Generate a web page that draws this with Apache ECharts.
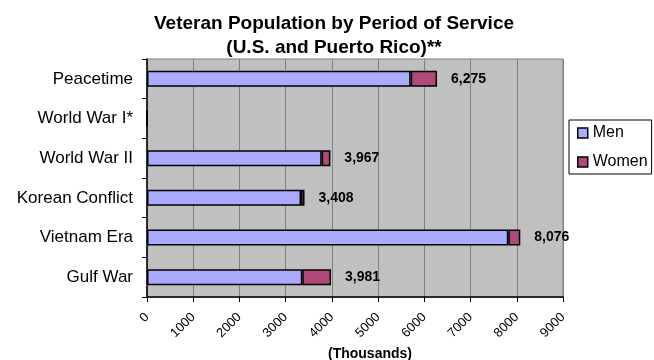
<!DOCTYPE html>
<html>
<head>
<meta charset="utf-8">
<script src="https://cdn.jsdelivr.net/npm/echarts@6/dist/echarts.min.js"></script>
<style>
  html, body { margin: 0; padding: 0; background: #fff; }
  #chart { width: 654px; height: 360px; }
</style>
</head>
<body>
<div id="chart"></div>
<script>
// values in thousands
const periods = ['Peacetime', 'World War I*', 'World War II', 'Korean Conflict', 'Vietnam Era', 'Gulf War']
const men = [5705, 0, 3779, 3332, 7817, 3360]
const women = [570, 0, 188, 76, 259, 621]
const totals = [6275, null, 3967, 3408, 8076, 3981]
const xTicks = [0, 1000, 2000, 3000, 4000, 5000, 6000, 7000, 8000, 9000]

const chart = echarts.init(document.getElementById('chart'))
const font = 'Arial, "Liberation Sans", sans-serif'

chart.setOption({
  animation: false,
  textStyle: { fontFamily: font },
  title: {
    text: 'Veteran Population by Period of Service\n(U.S. and Puerto Rico)**',
    left: 329,
    textAlign: 'center',
    top: 7,
    textStyle: { fontSize: 19, fontWeight: 'bold', color: '#000', lineHeight: 24, fontFamily: font }
  },
  legend: {
    orient: 'vertical',
    left: 569,
    top: 120,
    itemWidth: 10,
    itemHeight: 10,
    itemGap: 13,
    padding: [5, 4, 4, 8],
    borderColor: '#000',
    borderWidth: 1,
    backgroundColor: '#fff',
    textStyle: { fontSize: 16, lineHeight: 16, color: '#000', padding: [0, 0, 0, 0] },
    data: [
      { name: 'Men', icon: 'rect', itemStyle: { borderColor: '#000', borderWidth: 1.5 } },
      { name: 'Women', icon: 'rect', itemStyle: { borderColor: '#000', borderWidth: 1.5 } }
    ]
  },
  grid: {
    left: 147,
    right: 91,
    top: 59,
    bottom: 63,
    outerBoundsMode: 'none',
    containLabel: false,
    show: true,
    backgroundColor: '#c0c0c0',
    borderColor: '#808080',
    borderWidth: 1
  },
  xAxis: {
    type: 'value',
    min: xTicks[0],
    max: xTicks[xTicks.length - 1],
    interval: 1000,
    name: '(Thousands)',
    nameLocation: 'middle',
    nameGap: 49,
    nameTextStyle: { fontSize: 14, fontWeight: 'bold', color: '#000', padding: [0, 0, 0, 30] },
    axisLine: { show: true, lineStyle: { color: '#000', width: 1.5 } },
    axisTick: { show: true, length: 5, lineStyle: { color: '#000' } },
    axisLabel: { rotate: 45, fontSize: 13, color: '#000', margin: 18, formatter: v => String(v) },
    splitLine: { show: true, lineStyle: { color: '#808080', width: 1 } }
  },
  yAxis: {
    type: 'category',
    inverse: true,
    data: periods,
    axisLine: { show: true, lineStyle: { color: '#000', width: 1.5 } },
    axisTick: { show: true, length: 5, lineStyle: { color: '#000' } },
    axisLabel: { fontSize: 17, color: '#000', margin: 14 },
    splitLine: { show: false }
  },
  series: [
    {
      name: 'Men',
      type: 'bar',
      stack: 'total',
      barWidth: 16,
      data: men,
      itemStyle: { color: '#aaaaff', borderColor: '#000', borderWidth: 1.5 }
    },
    {
      name: 'Women',
      type: 'bar',
      stack: 'total',
      barWidth: 16,
      data: women.map((v, i) => ({ value: v, total: totals[i] })),
      itemStyle: { color: '#b0497a', borderColor: '#000', borderWidth: 1.5 },
      label: {
        show: true,
        position: 'right',
        distance: 14,
        fontSize: 14,
        fontWeight: 'bold',
        color: '#000',
        formatter: p => p.data.total == null ? '' : p.data.total.toLocaleString('en-US')
      }
    }
  ]
})
</script>
</body>
</html>
